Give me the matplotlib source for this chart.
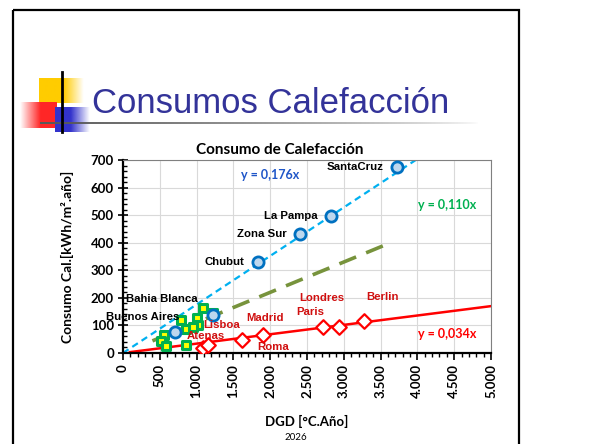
import numpy as np
import matplotlib
matplotlib.use("Agg")
import matplotlib.pyplot as plt
from matplotlib.patches import Rectangle
from matplotlib.ticker import MultipleLocator, FixedLocator

# --- data ---
arg_x = [3722, 2824, 2407, 1840, 1228, 707]
arg_y = [676, 497, 432, 331, 138, 77]
arg_names = ["SantaCruz", "La Pampa", "Zona Sur", "Chubut", "Bahia Blanca", "Buenos Aires"]

eu_x = [1090, 1150, 1614, 1908, 2724, 2928, 3268]
eu_y = [18, 28, 47, 65, 95, 93, 116]

loc_x = [1092, 1228, 790, 1000, 1020, 860, 950, 560, 520, 590, 860]
loc_y = [162, 144, 120, 128, 103, 88, 95, 64, 42, 24, 30]

slope_arg = 0.176
slope_loc = 0.110
slope_eu = 0.034
loc_range = [400, 3630]
eu_range = [95, 5000]

x_ticks = [0, 500, 1000, 1500, 2000, 2500, 3000, 3500, 4000, 4500, 5000]
x_tick_labels = ["0", "500", "1.000", "1.500", "2.000", "2.500", "3.000",
                 "3.500", "4.000", "4.500", "5.000"]
y_ticks = [0, 100, 200, 300, 400, 500, 600, 700]

LBL = dict(family="Liberation Sans", weight="bold", fontsize=8.2)
AX_FONT = dict(family="Lato", weight="bold")

fig = plt.figure(figsize=(6.05, 4.44), dpi=100)

# slide decoration layer in pixel coordinates
bg = fig.add_axes([0, 0, 1, 1], zorder=0)
bg.axis("off")
bg.add_patch(Rectangle((13, 10), 506, 440, fill=False, lw=1.6, ec="black"))


def fade_box(ax, x0, x1, y0, y1, rgb, solid_frac, flip=False):
    grad = np.ones((2, 100, 4))
    grad[..., :3] = rgb
    a = np.clip((1 - np.linspace(0, 1, 100)) / (1 - solid_frac), 0, 1)
    if flip:
        a = a[::-1]
    grad[..., 3] = a
    ax.imshow(grad, extent=(x0, x1, y1, y0), aspect="auto", interpolation="bilinear")


fade_box(bg, 39, 84, 79, 103, (1.0, 0.8, 0.0), 0.55)
fade_box(bg, 20, 57, 102, 128, (1.0, 0.15, 0.15), 0.45, flip=True)
fade_box(bg, 55, 90, 107, 132, (0.2, 0.2, 0.8), 0.45)
bg.plot([62, 62], [72, 132], color="black", lw=2)
hl = np.ones((2, 200, 4))
hl[..., :3] = 0.35
hl[..., 3] = np.linspace(1, 0, 200) ** 0.7
bg.imshow(hl, extent=(40, 480, 124.5, 122.5), aspect="auto")
bg.set_xlim(0, 605)
bg.set_ylim(444, 0)
bg.text(92, 113, "Consumos Calefacción", color="#333399", fontsize=25,
        family="Liberation Sans", va="baseline", ha="left")
bg.text(296, 440, "2026", fontsize=7, family="Lato", ha="center", va="baseline")
bg.text(280, 154, "Consumo de Calefacción", fontsize=11, ha="center",
        va="baseline", **AX_FONT)

# chart
ax = fig.add_axes([123 / 605, 1 - 353 / 444, 368 / 605, 193 / 444], zorder=2)
ax.set_xlim(0, 5000)
ax.set_ylim(0, 700)
ax.grid(True, color="#D9D9D9", lw=0.8)
ax.set_axisbelow(True)
for s in ["top", "right"]:
    ax.spines[s].set_color("#808080")
    ax.spines[s].set_linewidth(0.8)
for s in ["left", "bottom"]:
    ax.spines[s].set_linewidth(1.6)

ax.xaxis.set_major_locator(FixedLocator(x_ticks))
ax.set_xticklabels(x_tick_labels, rotation=90, **AX_FONT, fontsize=9.5)
ax.xaxis.set_minor_locator(MultipleLocator(100))
ax.yaxis.set_major_locator(FixedLocator(y_ticks))
ax.set_yticklabels([str(v) for v in y_ticks], **AX_FONT, fontsize=9.5)
ax.yaxis.set_minor_locator(MultipleLocator(20))
ax.tick_params(axis="x", which="major", direction="out", length=5, width=1.2, pad=3)
ax.tick_params(axis="x", which="minor", direction="out", length=3, width=1)
ax.tick_params(axis="y", which="major", direction="inout", length=7, width=1.2, pad=3)
ax.tick_params(axis="y", which="minor", direction="in", length=3, width=1)

xa = np.array([0, 700 / slope_arg])
ax.plot(xa, slope_arg * xa, ls=(0, (3, 2)), color="#00B0F0", lw=1.6, zorder=2)
xl = np.array(loc_range)
ax.plot(xl, slope_loc * xl, ls=(0, (5, 3)), color="#77933C", lw=2.6, zorder=2)
xe = np.array(eu_range)
ax.plot(xe, slope_eu * xe, color="#FF0000", lw=1.8, zorder=2)

ax.scatter(loc_x, loc_y, marker="s", s=38, facecolor="#FFFF00", edgecolor="#00B050",
           linewidth=2.2, zorder=4)
ax.scatter(eu_x, eu_y, marker="D", s=55, facecolor="white", edgecolor="#FF0000",
           linewidth=1.6, zorder=4)
ax.scatter(arg_x, arg_y, marker="o", s=65, facecolor="#BDD7EE", edgecolor="#0070C0",
           linewidth=2.0, zorder=5)

# data labels
for name, (lx, ly) in zip(arg_names[:4], [(3540, 676), (2650, 497), (2230, 432), (1650, 331)]):
    ax.text(lx, ly, name, ha="right", va="center", color="black", zorder=6, **LBL)
ax.text(40, 195, "Bahia Blanca", ha="left", va="center", color="black", zorder=6, **LBL)
ax.text(760, 130, "Buenos Aires", ha="right", va="center", color="black", zorder=6, **LBL)

red = "#D01010"
for name, lx, ly in [("Lisboa", 1090, 100), ("Atenas", 860, 63), ("Madrid", 1680, 128),
                     ("Roma", 1820, 20), ("Londres", 2400, 198), ("Paris", 2350, 150),
                     ("Berlin", 3310, 203)]:
    ax.text(lx, ly, name, ha="left", va="center", color=red, zorder=6, **LBL)

EQ = dict(family="Lato", weight="bold", fontsize=9, ha="left", va="center")
ax.text(1610, 646, "y = 0,176x", color="#1F56C8", **EQ)
ax.text(4010, 535, "y = 0,110x", color="#00B050", **EQ)
ax.text(4010, 70, "y = 0,034x", color="#FF0000", **EQ)

ax.set_xlabel("DGD [°C.Año]", **AX_FONT, fontsize=9.5, labelpad=12)
ax.set_ylabel("Consumo Cal.[kWh/m².año]", **AX_FONT, fontsize=10, labelpad=12)

fig.savefig("out.png", dpi=100)
